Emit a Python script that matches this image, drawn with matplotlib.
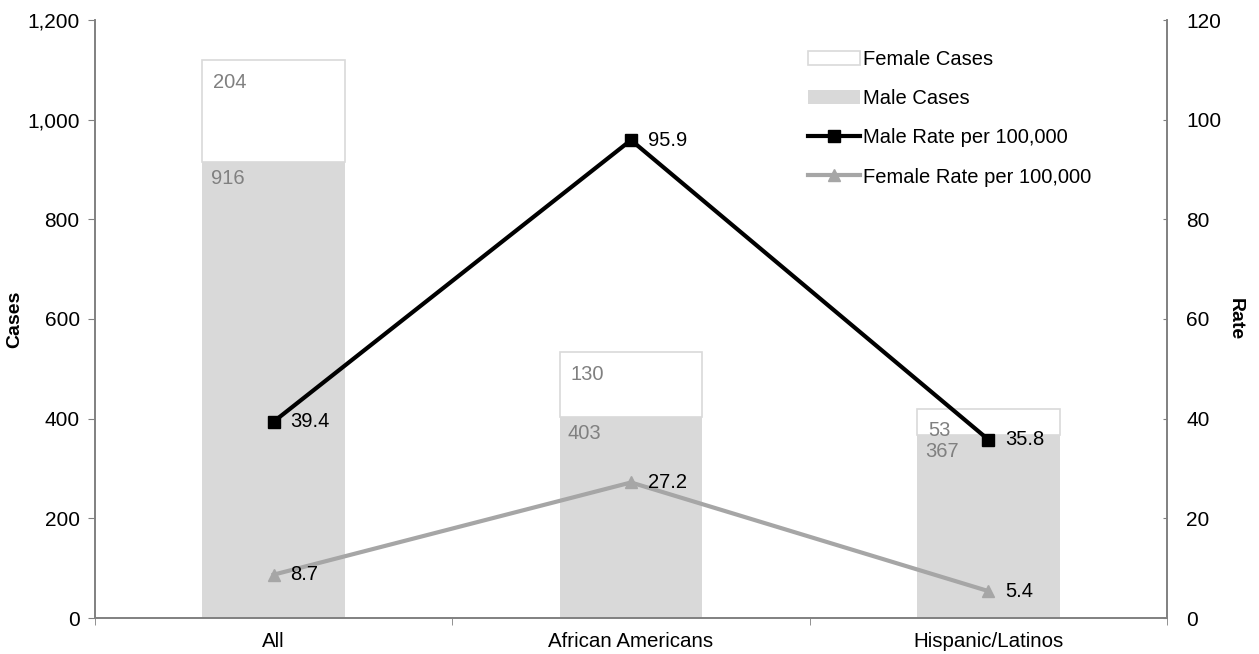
import matplotlib.pyplot as plt
from matplotlib.patches import Patch
from matplotlib.lines import Line2D
from matplotlib.ticker import FuncFormatter
import numpy as np

plt.rcParams['font.family'] = ['Liberation Sans', 'DejaVu Sans']

# data
groups = ["All", "African Americans", "Hispanic/Latinos"]
male_cases = [916, 403, 367]
female_cases = [204, 130, 53]
male_rate = [39.4, 95.9, 35.8]
female_rate = [8.7, 27.2, 5.4]

fig = plt.figure(figsize=(12.59, 6.54), dpi=100)
ax = fig.add_axes([95/1259, 1-618/654, 1072/1259, 598/654])
ax2 = ax.twinx()

x = np.arange(len(groups))
w = 0.4
ax.bar(x, male_cases, w, color="#d9d9d9", zorder=1)
ax.bar(x, female_cases, w, bottom=male_cases, color="white",
       edgecolor="#d9d9d9", linewidth=1.2, zorder=1)

# bar labels in the top left of each segment
for i in range(len(groups)):
    ax.annotate(str(female_cases[i]), (x[i] - w/2, male_cases[i] + female_cases[i]),
                xytext=(8, -16), textcoords="offset points", ha="left", va="center",
                color="#808080", fontsize=14.5)
    ax.annotate(str(male_cases[i]), (x[i] - w/2, male_cases[i]),
                xytext=(6, -12), textcoords="offset points", ha="left", va="center",
                color="#808080", fontsize=14.5)

ax2.plot(x, male_rate, color="black", lw=3, marker="s", ms=9, zorder=3)
ax2.plot(x, female_rate, color="#a6a6a6", lw=3, marker="^", ms=9, zorder=3)
for i in range(len(groups)):
    ax2.annotate(f"{male_rate[i]}", (x[i], male_rate[i]), xytext=(12, 0),
                 textcoords="offset points", ha="left", va="center", fontsize=14.5)
    ax2.annotate(f"{female_rate[i]}", (x[i], female_rate[i]), xytext=(12, 0),
                 textcoords="offset points", ha="left", va="center", fontsize=14.5)

ax.set_xlim(-0.5, 2.5)
ax.set_ylim(0, 1200)
ax2.set_ylim(0, 120)
ax.set_yticks(range(0, 1201, 200))
ax.yaxis.set_major_formatter(FuncFormatter(lambda v, p: f"{int(v):,}"))
ax2.set_yticks(range(0, 121, 20))

ax.set_xticks(x)
ax.set_xticklabels(groups)
ax.set_xticks([-0.5, 0.5, 1.5, 2.5], minor=True)
ax.tick_params(axis="x", which="major", length=0, labelsize=14.8, pad=10)
ax.tick_params(axis="x", which="minor", length=5, color="#808080")
ax.tick_params(axis="y", labelsize=15, length=5, color="#808080", pad=6)
ax2.tick_params(axis="y", labelsize=15, length=3, direction="in",
                color="#808080", pad=14)

ax.set_ylabel("Cases", fontweight="bold", fontsize=14, labelpad=3)
ax2.set_ylabel("Rate", fontweight="bold", fontsize=14, rotation=-90, labelpad=16)

for a in (ax, ax2):
    a.spines["top"].set_visible(False)
    for s in ("left", "right", "bottom"):
        a.spines[s].set_color("#808080")
        a.spines[s].set_linewidth(1.2)

handles = [
    Patch(facecolor="white", edgecolor="#d9d9d9", linewidth=1.2, label="Female Cases"),
    Patch(facecolor="#d9d9d9", label="Male Cases"),
    Line2D([], [], color="black", lw=3, marker="s", ms=9, label="Male Rate per 100,000"),
    Line2D([], [], color="#a6a6a6", lw=3, marker="^", ms=9, label="Female Rate per 100,000"),
]
ax2.legend(handles=handles, loc="upper left", bbox_to_anchor=(0.648, 0.98),
           frameon=False, fontsize=14.5, handlelength=2.6, handletextpad=0.15,
           labelspacing=1.0)

fig.savefig("out.png", dpi=100)
